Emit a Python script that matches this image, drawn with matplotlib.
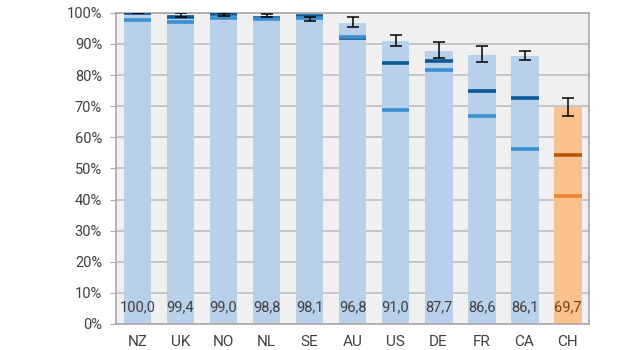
import matplotlib.pyplot as plt
import numpy as np

countries = ['NZ', 'UK', 'NO', 'NL', 'SE', 'AU', 'US', 'DE', 'FR', 'CA', 'CH']
values = [100.0, 99.4, 99.0, 98.8, 98.1, 96.8, 91.0, 87.7, 86.6, 86.1, 69.7]
err_low = [100.0, 98.6, 99.0, 98.6, 97.5, 95.6, 89.4, 85.5, 84.2, 84.8, 67.0]
err_high = [100.0, 100.0, 99.8, 99.6, 98.8, 98.8, 93.0, 90.5, 89.3, 87.8, 72.7]
dark_mark = [99.8, 98.7, 99.5, 98.5, 98.9, 92.0, 84.0, 84.4, 75.0, 72.7, 54.3]
light_mark = [97.6, 97.0, 98.3, 98.0, 98.4, 92.3, 68.8, 81.7, 66.8, 56.3, 41.2]
labels = ['100,0', '99,4', '99,0', '98,8', '98,1', '96,8', '91,0', '87,7', '86,6', '86,1', '69,7']

plt.rcParams['font.family'] = ['Roboto', 'DejaVu Sans']

fig = plt.figure(figsize=(6.22, 3.5), dpi=100)
ax = fig.add_axes([0.1865, 0.0743, 0.7605, 0.889])
ax.set_facecolor('#f0f0f0')

X = np.arange(len(countries))
w = 0.65
bar_col = ['#b9d0eb'] * 10 + ['#f9c18d']
dark_col = ['#0e5a97'] * 10 + ['#b4560c']
light_col = ['#3b8ed1'] * 10 + ['#f0862c']
txt_col = ['#404040'] * 10 + ['#7a4010']

ax.bar(X, values, width=w, color=bar_col, zorder=2)
ax.hlines(dark_mark, X - w / 2, X + w / 2, colors=dark_col, linewidth=2.6, zorder=3)
ax.hlines(light_mark, X - w / 2, X + w / 2, colors=light_col, linewidth=2.6, zorder=3)

v = np.array(values)
yerr = [v - np.array(err_low), np.array(err_high) - v]
ax.errorbar(X, values, yerr=yerr, fmt='none', ecolor='black', elinewidth=1.1,
            capsize=4, capthick=1.1, zorder=4)

for i in range(len(X)):
    ax.text(X[i], 5.3, labels[i], ha='center', va='center', fontsize=10.5,
            color=txt_col[i], zorder=5)

ax.set_xlim(-0.5, 10.5)
ax.set_ylim(0, 100)
ax.set_yticks(np.arange(0, 101, 10))
ax.set_yticklabels([f'{t}%' for t in range(0, 101, 10)])
ax.set_xticks(X)
ax.set_xticklabels(countries)
ax.yaxis.grid(True, color='#bdbdbd', linewidth=1.2, zorder=1)
ax.set_axisbelow(True)
ax.tick_params(axis='x', length=0, pad=8, labelsize=11, labelcolor='#404040')
ax.tick_params(axis='y', length=4, color='#a8a8a8', pad=6, labelsize=10.5, labelcolor='#404040')
for s in ax.spines.values():
    s.set_color('#a8a8a8')
    s.set_linewidth(1.2)

fig.savefig('out.png', dpi=100)
